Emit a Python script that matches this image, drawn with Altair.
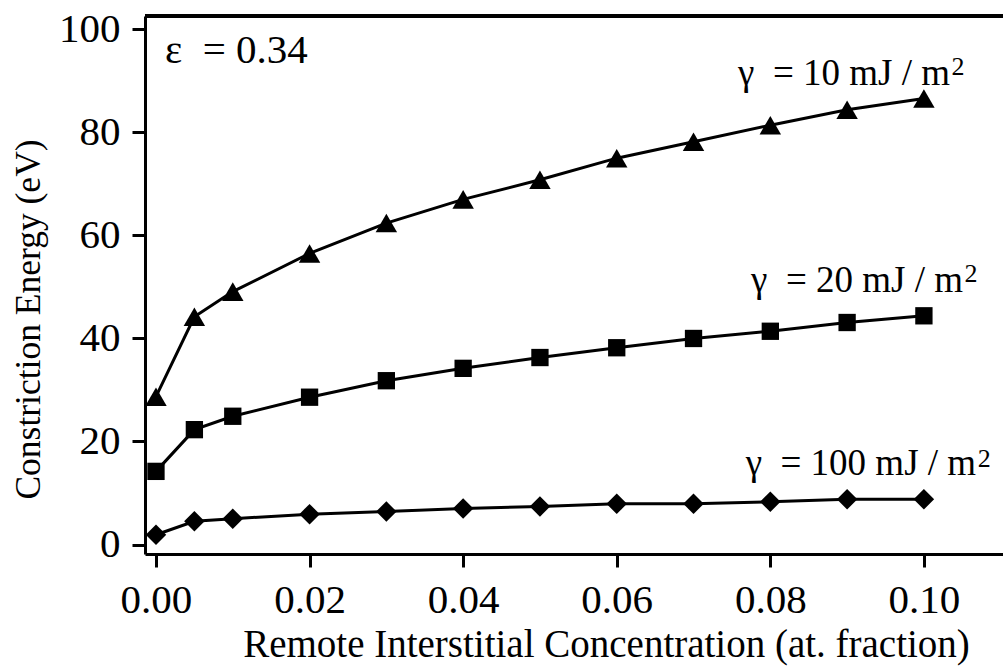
import altair as alt
import pandas as pd

# Data
conc = [0.0, 0.005, 0.01, 0.02, 0.03, 0.04, 0.05, 0.06, 0.07, 0.08, 0.09, 0.10]
g10 = [28.7, 44.2, 49.1, 56.5, 62.4, 67.0, 70.8, 75.0, 78.2, 81.4, 84.4, 86.6]
g20 = [14.2, 22.3, 24.9, 28.6, 31.8, 34.2, 36.3, 38.2, 40.0, 41.4, 43.1, 44.4]
g100 = [1.9, 4.5, 5.0, 5.9, 6.4, 7.0, 7.4, 7.9, 7.9, 8.3, 8.8, 8.8]

series_names = ["g10", "g20", "g100"]
series_shapes = ["triangle-up", "square", "diamond"]
series_sizes = [460, 300, 420]

x_ticks = [0.0, 0.02, 0.04, 0.06, 0.08, 0.10]
y_ticks = [0, 20, 40, 60, 80, 100]

NB = "\u00a0"
# annotation texts (positions in data units; label x is the right end of "m")
label_text = ["γ" + NB + " = 10 mJ / m", "γ" + NB + " = 20 mJ / m", "γ" + NB + " = 100 mJ / m"]
label_x = [0.1034, 0.1051, 0.1068]
label_y = [89.2, 49.0, 13.5]
sup_text = ["2", "2", "2"]
sup_x = [0.1036, 0.1053, 0.1070]
sup_y = [91.2, 51.0, 15.1]
eps_text = ["ε" + NB + " = 0.34"]
eps_x = [0.00117]
eps_y = [93.5]

rows = []
for name, vals in zip(series_names, [g10, g20, g100]):
    for xv, yv in zip(conc, vals):
        rows.append({"series": name, "x": xv, "y": yv})
df = pd.DataFrame(rows)

lab_df = pd.DataFrame({"x": label_x, "y": label_y, "t": label_text})
sup_df = pd.DataFrame({"x": sup_x, "y": sup_y, "t": sup_text})
eps_df = pd.DataFrame({"x": eps_x, "y": eps_y, "t": eps_text})

FONT = "Liberation Serif"
xscale = alt.Scale(domain=[-0.00143, 0.1103], nice=False, zero=False)
yscale = alt.Scale(domain=[-1.84, 102.6], nice=False, zero=False)

xaxis = alt.Axis(
    values=x_ticks, format=".2f", title="Remote Interstitial Concentration (at. fraction)",
    grid=False, domainColor="black", domainWidth=3, tickColor="black", tickWidth=3,
    tickSize=13, labelFont=FONT, labelFontSize=41, labelColor="black", labelPadding=13,
    titleFont=FONT, titleFontSize=39, titleFontWeight="normal", titleColor="black",
    titleX=461, titleY=102, titleBaseline="alphabetic", titleAlign="center",
    labelFlush=False,
)
yaxis = alt.Axis(
    values=y_ticks, title="Constriction Energy (eV)",
    grid=False, domainColor="black", domainWidth=3, tickColor="black", tickWidth=3,
    tickSize=13, labelFont=FONT, labelFontSize=41, labelColor="black", labelPadding=12,
    titleFont=FONT, titleFontSize=35.5, titleFontWeight="normal", titleColor="black",
    titleX=-106, titleY=303, titleBaseline="alphabetic", titleAlign="center", titleAngle=-90,
    labelFlush=False,
)

base = alt.Chart(df).encode(
    x=alt.X("x:Q", scale=xscale, axis=xaxis),
    y=alt.Y("y:Q", scale=yscale, axis=yaxis),
)

lines = base.mark_line(color="black", strokeWidth=3).encode(detail="series:N")

point_layers = []
for name, shp, sz in zip(series_names, series_shapes, series_sizes):
    point_layers.append(
        base.transform_filter(alt.datum.series == name).mark_point(
            filled=True, color="black", opacity=1, shape=shp, size=sz, strokeWidth=0
        )
    )

top_rule = alt.Chart(df).mark_rule(color="black", strokeWidth=3).encode(
    x=alt.value(0), x2=alt.value(858), y=alt.value(0)
)

labels = alt.Chart(lab_df).mark_text(
    font=FONT, fontSize=37, align="right", baseline="alphabetic", color="black"
).encode(x=alt.X("x:Q", scale=xscale), y=alt.Y("y:Q", scale=yscale), text="t:N")

sups = alt.Chart(sup_df).mark_text(
    font=FONT, fontSize=26, align="left", baseline="alphabetic", color="black"
).encode(x=alt.X("x:Q", scale=xscale), y=alt.Y("y:Q", scale=yscale), text="t:N")

eps = alt.Chart(eps_df).mark_text(
    font=FONT, fontSize=41, align="left", baseline="alphabetic", color="black"
).encode(x=alt.X("x:Q", scale=xscale), y=alt.Y("y:Q", scale=yscale), text="t:N")

chart = alt.layer(lines, *point_layers, top_rule, labels, sups, eps).properties(
    width=858, height=538,
    padding={"left": 145, "top": 16, "right": 0, "bottom": 112},
    autosize=alt.AutoSizeParams(type="none"),
    background="white",
).configure_view(stroke=None)

chart.save("out.html", embed_options={"renderer": "svg", "actions": False})
